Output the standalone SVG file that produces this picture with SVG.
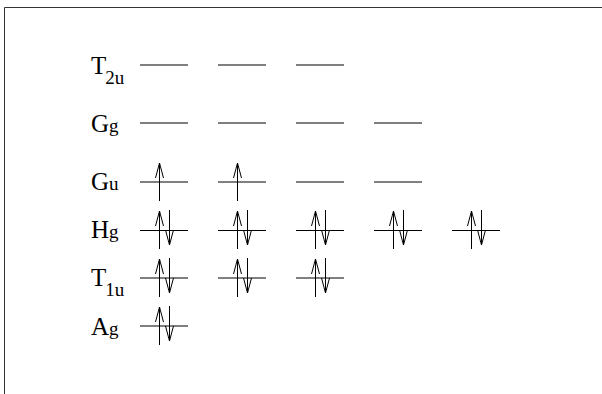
<svg xmlns="http://www.w3.org/2000/svg" xmlns:xlink="http://www.w3.org/1999/xlink" width="602" height="394" viewBox="0 0 602 394">
<style>
.frame{fill:none;stroke:#333;stroke-width:1}
.lvl{stroke:#000;stroke-width:1;fill:none}
.arr{stroke:#000;stroke-width:1;fill:none}
.lab{font-family:"Liberation Serif","Times New Roman",serif;font-size:25px;fill:#000}
.sub{font-size:19px}
</style>
<defs>
<g id="up"><path class="arr" d="M19.5,-19 V19 M15.5,-4 L19.5,-19 L23.5,-4"/></g>
<g id="dn"><path class="arr" d="M29.5,-20 V15 M25.5,0 L29.5,15 L33.5,0"/></g>
<g id="pair"><use xlink:href="#up"/><use xlink:href="#dn"/></g>
<path id="lv" class="lvl" d="M0,0 H48"/>
</defs>
<rect width="602" height="394" fill="#fff"/>
<path class="frame" d="M4.5,394 V7.5 H602"/>

<g id="T2u">
<text class="lab" x="91" y="74">T<tspan class="sub" dx="-1" dy="10">2u</tspan></text>
<use xlink:href="#lv" x="140" y="65"/><use xlink:href="#lv" x="218" y="65"/><use xlink:href="#lv" x="296" y="65"/>
</g>
<g id="Gg">
<text class="lab" x="91" y="132">G<tspan class="sub">g</tspan></text>
<use xlink:href="#lv" x="140" y="123"/><use xlink:href="#lv" x="218" y="123"/><use xlink:href="#lv" x="296" y="123"/><use xlink:href="#lv" x="374" y="123"/>
</g>
<g id="Gu">
<text class="lab" x="91" y="190">G<tspan class="sub">u</tspan></text>
<use xlink:href="#lv" x="140" y="182"/><use xlink:href="#lv" x="218" y="182"/><use xlink:href="#lv" x="296" y="182"/><use xlink:href="#lv" x="374" y="182"/>
<use xlink:href="#up" x="140" y="182"/><use xlink:href="#up" x="218" y="182"/>
</g>
<g id="Hg">
<text class="lab" x="91" y="238">H<tspan class="sub">g</tspan></text>
<use xlink:href="#lv" x="140" y="230.5"/><use xlink:href="#lv" x="218" y="230.5"/><use xlink:href="#lv" x="296" y="230.5"/><use xlink:href="#lv" x="374" y="230.5"/><use xlink:href="#lv" x="452" y="230.5"/>
<use xlink:href="#pair" x="140" y="230"/><use xlink:href="#pair" x="218" y="230"/><use xlink:href="#pair" x="296" y="230"/><use xlink:href="#pair" x="374" y="230"/><use xlink:href="#pair" x="452" y="230"/>
</g>
<g id="T1u">
<text class="lab" x="91" y="286">T<tspan class="sub" dx="-1" dy="10">1u</tspan></text>
<use xlink:href="#lv" x="140" y="278"/><use xlink:href="#lv" x="218" y="278"/><use xlink:href="#lv" x="296" y="278"/>
<use xlink:href="#pair" x="140" y="278"/><use xlink:href="#pair" x="218" y="278"/><use xlink:href="#pair" x="296" y="278"/>
</g>
<g id="Ag">
<text class="lab" x="91" y="335">A<tspan class="sub">g</tspan></text>
<use xlink:href="#lv" x="140" y="326"/>
<use xlink:href="#pair" x="140" y="326"/>
</g>
<g id="connectors"></g>
</svg>
